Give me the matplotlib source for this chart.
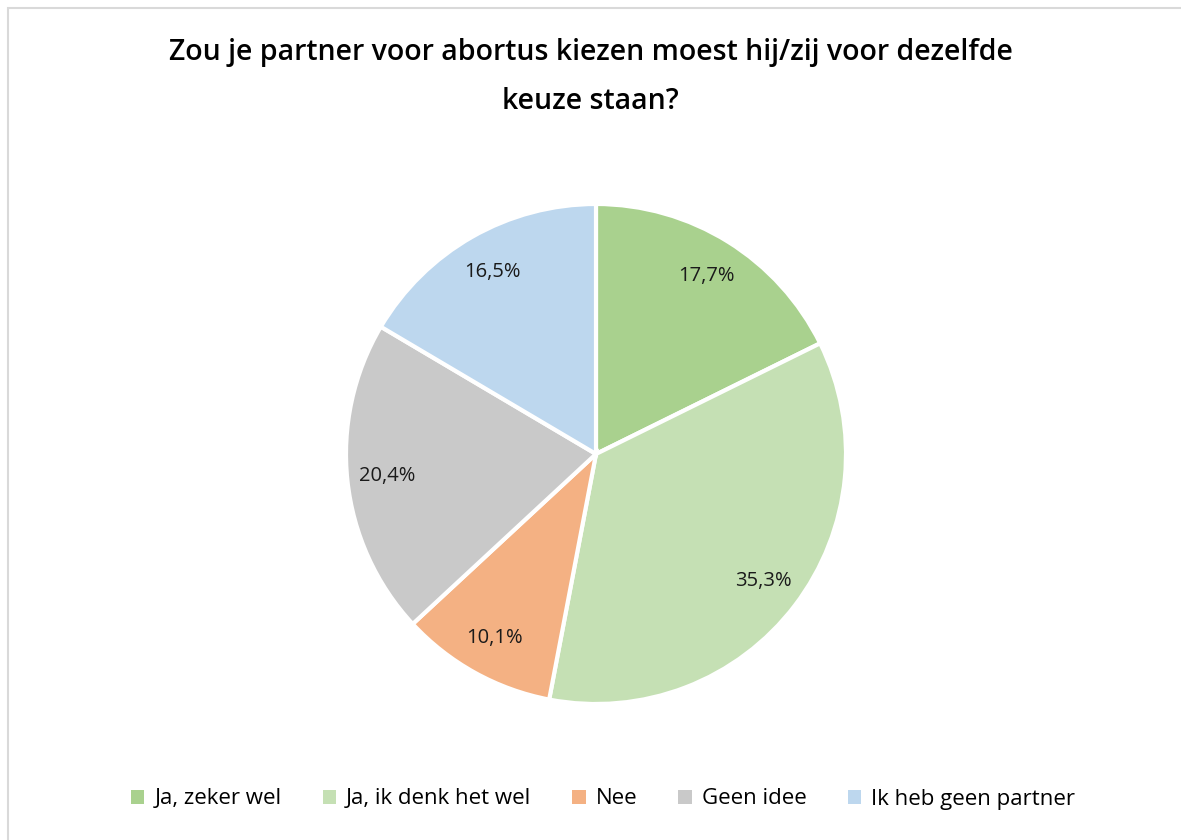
import matplotlib
matplotlib.use('Agg')
import matplotlib.pyplot as plt
from matplotlib.patches import Rectangle, Patch

plt.rcParams['font.family'] = ['Open Sans', 'DejaVu Sans']

categories = ['Ja, zeker wel', 'Ja, ik denk het wel', 'Nee', 'Geen idee', 'Ik heb geen partner']
values = [17.7, 35.3, 10.1, 20.4, 16.5]
colors = ['#A9D18E', '#C5E0B4', '#F4B183', '#C9C9C9', '#BDD7EE']
title = 'Zou je partner voor abortus kiezen moest hij/zij voor dezelfde\nkeuze staan?'

W, H = 1181, 840
fig = plt.figure(figsize=(W / 100, H / 100), dpi=100)

# light frame around the chart area (left and top visible)
fig.patches.append(Rectangle((8 / W, -0.1), 1.2, 1 - 8 / H + 0.1, transform=fig.transFigure,
                             fill=False, edgecolor='#D9D9D9', linewidth=1.5))

cx, cy, r = 596, 454, 250 * 1.02
ax = fig.add_axes([(cx - r) / W, (H - cy - r) / H, 2 * r / W, 2 * r / H])

wedges, texts, autotexts = ax.pie(
    values, colors=colors, startangle=90, counterclock=False,
    autopct=lambda p: '{:.1f}%'.format(p).replace('.', ','), pctdistance=0.84,
    wedgeprops=dict(edgecolor='white', linewidth=3),
    textprops=dict(fontsize=14.5, color='#1a1a1a'))
ax.set_xlim(-1.02, 1.02)
ax.set_ylim(-1.02, 1.02)

fig.text(0.5, 1 - 77 / H, title, ha='center', va='center', fontsize=20.5,
         fontweight='semibold', linespacing=1.95, color='black')

handles = [Patch(facecolor=c, edgecolor='none') for c in colors]
fig.legend(handles, categories, loc='center', bbox_to_anchor=(603 / W, 1 - 799 / H), ncol=5,
           frameon=False, fontsize=16, handlelength=0.6, handleheight=0.6,
           handletextpad=0.45, columnspacing=1.85)

fig.savefig('out.png', dpi=100)
